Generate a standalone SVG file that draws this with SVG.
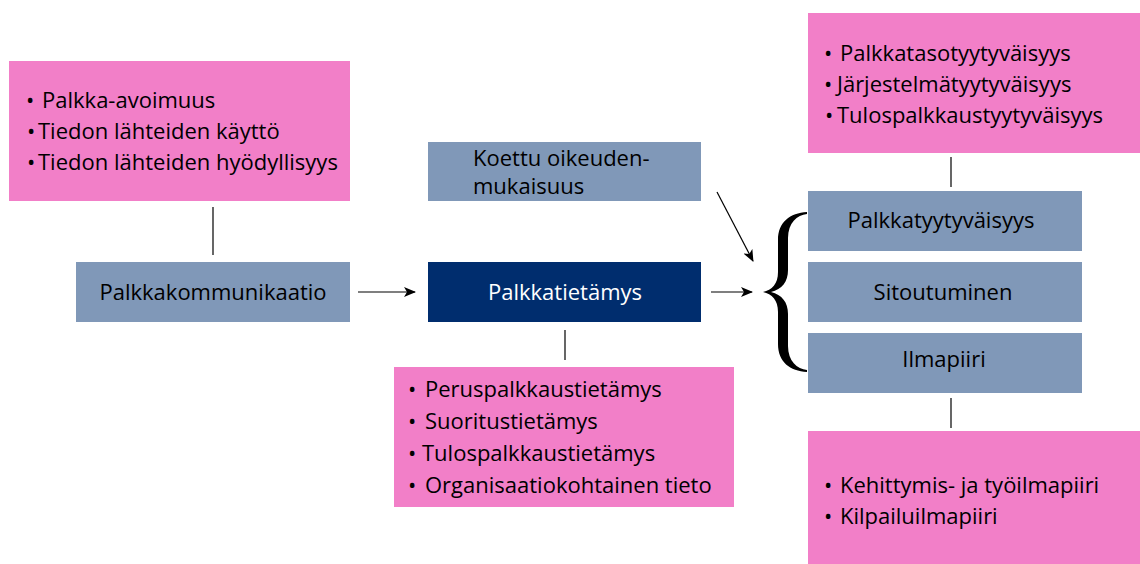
<svg xmlns="http://www.w3.org/2000/svg" width="1140" height="564" viewBox="0 0 1140 564">
<style>
.pink{fill:#F27FC8}
.slate{fill:#8098B8}
.navy{fill:#002D6E}
.t{font-family:"Open Sans","Liberation Sans",sans-serif;font-size:22px;fill:#000}
.w{fill:#fff}
.c{text-anchor:middle}
.ln{stroke:#000;stroke-width:1.2;fill:none}
</style>
<defs>
<marker id="ah" markerWidth="12" markerHeight="10" refX="11" refY="5" orient="auto" markerUnits="userSpaceOnUse">
<path d="M0,0 L12,5 L0,10 L3,5 Z" fill="#000"/>
</marker>
</defs>
<rect width="1140" height="564" fill="#fff"/>

<g id="connectors">
<line class="ln" x1="213" y1="207" x2="213" y2="255"/>
<line class="ln" x1="565" y1="330" x2="565" y2="360"/>
<line class="ln" x1="951" y1="157" x2="951" y2="187"/>
<line class="ln" x1="951" y1="398" x2="951" y2="428"/>
<line class="ln" x1="358" y1="292" x2="415" y2="292" marker-end="url(#ah)"/>
<line class="ln" x1="711" y1="292" x2="752" y2="292" marker-end="url(#ah)"/>
<line class="ln" x1="717" y1="192" x2="753" y2="261" marker-end="url(#ah)"/>
<path id="brace" fill="#000" d="M807,212 C790,213 778,222 778,240 L778,272 C778,284 772,290 763,292 C772,294 778,300 778,312 L778,344 C778,362 790,371 807,372 L807,370 C797,369 788,361 788,346 L788,314 C788,302 782,295 771,292 C782,289 788,282 788,270 L788,238 C788,223 797,215 807,214 Z"/>
</g>

<g id="n-communication-attrs">
<rect class="pink" x="9" y="61" width="341" height="140"/>
<text class="t" x="26" y="108">•</text><text class="t" x="42" y="108">Palkka-avoimuus</text>
<text class="t" x="27" y="139">•</text><text class="t" x="38" y="139">Tiedon lähteiden käyttö</text>
<text class="t" x="27" y="170">•</text><text class="t" x="38" y="170">Tiedon lähteiden hyödyllisyys</text>
</g>

<g id="n-palkkakommunikaatio">
<rect class="slate" x="76" y="262" width="274" height="60"/>
<text class="t c" x="213" y="300">Palkkakommunikaatio</text>
</g>

<g id="n-koettu">
<rect class="slate" x="428" y="142" width="273" height="59"/>
<text class="t" x="473" y="166">Koettu oikeuden-</text>
<text class="t" x="473" y="194">mukaisuus</text>
</g>

<g id="n-palkkatietamys">
<rect class="navy" x="428" y="262" width="273" height="60"/>
<text class="t w c" x="565" y="300">Palkkatietämys</text>
</g>

<g id="n-knowledge-attrs">
<rect class="pink" x="394" y="367" width="340" height="140"/>
<text class="t" x="408" y="397">•</text><text class="t" x="425" y="397">Peruspalkkaustietämys</text>
<text class="t" x="408" y="429">•</text><text class="t" x="425" y="429">Suoritustietämys</text>
<text class="t" x="408" y="461">•</text><text class="t" x="422" y="461">Tulospalkkaustietämys</text>
<text class="t" x="408" y="493">•</text><text class="t" x="425" y="493">Organisaatiokohtainen tieto</text>
</g>

<g id="n-satisfaction-attrs">
<rect class="pink" x="808" y="13" width="332" height="140"/>
<text class="t" x="824" y="61">•</text><text class="t" x="840" y="61">Palkkatasotyytyväisyys</text>
<text class="t" x="824" y="92">•</text><text class="t" x="837" y="92">Järjestelmätyytyväisyys</text>
<text class="t" x="825" y="123">•</text><text class="t" x="837" y="123">Tulospalkkaustyytyväisyys</text>
</g>

<g id="n-palkkatyytyvaisyys">
<rect class="slate" x="808" y="191" width="274" height="60"/>
<text class="t c" x="941" y="228">Palkkatyytyväisyys</text>
</g>

<g id="n-sitoutuminen">
<rect class="slate" x="808" y="262" width="274" height="60"/>
<text class="t c" x="943" y="300">Sitoutuminen</text>
</g>

<g id="n-ilmapiiri">
<rect class="slate" x="808" y="333" width="274" height="60"/>
<text class="t c" x="944" y="367">Ilmapiiri</text>
</g>

<g id="n-climate-attrs">
<rect class="pink" x="808" y="431" width="332" height="133"/>
<text class="t" x="824" y="493">•</text><text class="t" x="840" y="493">Kehittymis- ja työilmapiiri</text>
<text class="t" x="824" y="524">•</text><text class="t" x="840" y="524">Kilpailuilmapiiri</text>
</g>
</svg>
